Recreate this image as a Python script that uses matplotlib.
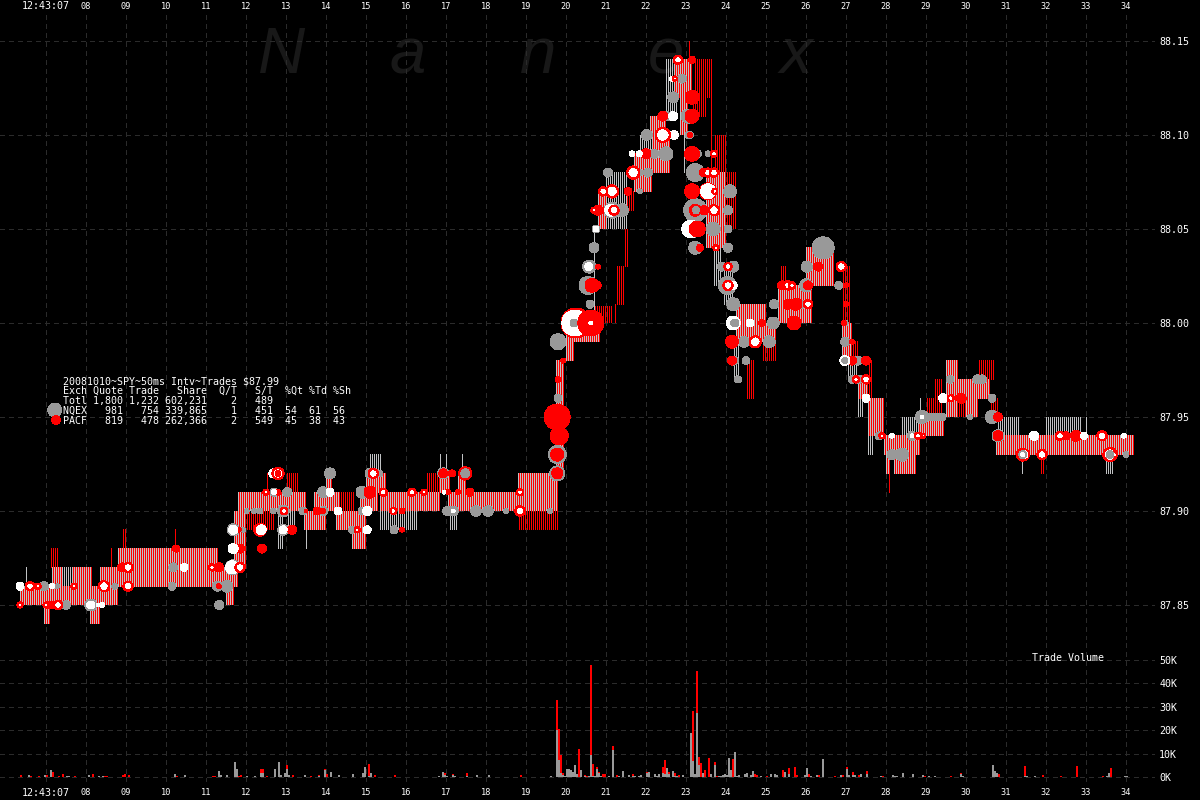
import numpy as np
import matplotlib
matplotlib.use("Agg")
import matplotlib.pyplot as plt

GRAY = '#999999'
STRIPE_GRAY = '#c0c2c4'
RED = '#ff0000'
GRID = '#2b2b2b'
MONO = 'DejaVu Sans Mono'

# quote ranges held for a stretch of time: (start s, end s, low, high)
both_quotes = [
    (6.35, 8.80, 87.85, 87.86), (6.95, 7.10, 87.84, 87.85), (8.10, 8.35, 87.84, 87.85),
    (7.15, 7.40, 87.86, 87.87), (7.65, 8.15, 87.86, 87.87), (8.35, 8.80, 87.86, 87.87),
    (8.80, 11.30, 87.86, 87.88), (11.50, 11.70, 87.85, 87.86), (11.30, 11.80, 87.86, 87.87),
    (11.80, 13.50, 87.90, 87.91), (11.70, 12.00, 87.87, 87.90), (13.45, 14.00, 87.89, 87.90),
    (13.70, 14.35, 87.90, 87.91), (14.00, 14.15, 87.91, 87.92), (14.25, 15.00, 87.89, 87.90),
    (14.65, 15.00, 87.88, 87.89), (14.85, 15.30, 87.90, 87.91), (15.00, 15.50, 87.91, 87.92),
    (15.35, 16.85, 87.90, 87.91), (16.85, 17.10, 87.91, 87.92), (17.30, 17.50, 87.91, 87.92),
    (17.05, 19.80, 87.90, 87.91), (18.80, 19.80, 87.91, 87.92), (19.75, 19.95, 87.92, 87.98),
    (20.20, 20.85, 87.99, 88.00), (20.00, 20.20, 87.98, 88.00), (20.80, 21.00, 88.05, 88.07),
    (21.70, 22.15, 88.07, 88.09), (22.10, 22.50, 88.10, 88.11), (22.15, 22.60, 88.08, 88.10),
    (22.70, 23.15, 88.12, 88.14), (22.85, 23.05, 88.10, 88.12), (23.50, 24.00, 88.04, 88.08),
    (24.25, 25.00, 87.99, 88.01), (25.00, 25.25, 87.99, 88.00), (25.30, 26.15, 88.00, 88.02),
    (26.00, 26.70, 88.02, 88.04), (26.90, 27.15, 87.98, 88.00), (27.30, 27.55, 87.96, 87.97),
    (27.55, 27.95, 87.94, 87.96), (27.95, 28.85, 87.93, 87.94), (28.00, 28.10, 87.92, 87.93),
    (28.20, 28.75, 87.92, 87.93), (28.80, 29.45, 87.94, 87.95), (29.50, 29.80, 87.95, 87.98),
    (29.80, 30.60, 87.96, 87.97), (30.00, 30.30, 87.95, 87.96), (30.75, 34.20, 87.93, 87.94),
]
red_quotes = [
    (7.10, 7.30, 87.87, 87.88), (8.60, 8.65, 87.87, 87.88), (8.90, 9.00, 87.88, 87.89),
    (10.20, 10.25, 87.88, 87.89), (11.95, 12.70, 87.89, 87.90), (12.50, 12.55, 87.91, 87.92),
    (13.00, 13.30, 87.91, 87.92), (14.35, 14.70, 87.90, 87.91), (16.50, 16.85, 87.91, 87.92),
    (18.80, 19.80, 87.89, 87.90), (20.70, 21.15, 88.00, 88.009), (21.20, 21.25, 88.00, 88.01),
    (21.25, 21.45, 88.01, 88.03), (21.45, 21.55, 88.03, 88.05), (21.50, 21.70, 88.06, 88.07),
    (23.05, 23.10, 88.14, 88.15), (23.20, 23.65, 88.12, 88.14), (23.15, 23.50, 88.11, 88.12),
    (23.60, 23.65, 88.08, 88.12), (23.70, 24.00, 88.08, 88.10), (24.00, 24.25, 88.05, 88.08),
    (24.50, 24.70, 87.96, 87.98), (24.90, 25.25, 87.98, 87.99), (25.35, 25.50, 88.02, 88.03),
    (26.90, 27.10, 88.00, 88.03), (27.15, 27.30, 87.98, 87.99), (27.55, 27.65, 87.96, 87.98),
    (27.70, 27.95, 87.94, 87.96), (28.05, 28.10, 87.91, 87.92), (29.00, 29.40, 87.95, 87.96),
    (29.20, 29.40, 87.96, 87.97), (29.80, 30.05, 87.95, 87.96), (30.30, 30.70, 87.97, 87.98),
    (30.60, 30.80, 87.95, 87.96), (31.85, 31.95, 87.92, 87.93),
]
gray_quotes = [
    (6.50, 6.55, 87.86, 87.87), (7.40, 7.65, 87.86, 87.87), (12.80, 12.95, 87.88, 87.90),
    (13.05, 13.25, 87.89, 87.90), (13.50, 13.55, 87.88, 87.89), (15.10, 15.40, 87.92, 87.93),
    (15.35, 16.30, 87.89, 87.90), (16.85, 16.90, 87.92, 87.93), (17.00, 17.05, 87.92, 87.93),
    (17.10, 17.30, 87.89, 87.90), (17.40, 17.45, 87.91, 87.93), (20.70, 20.75, 87.99, 88.05),
    (21.00, 21.55, 88.05, 88.08), (21.85, 22.15, 88.08, 88.10), (22.50, 22.80, 88.11, 88.14),
    (22.95, 23.00, 88.08, 88.11), (23.70, 23.90, 88.02, 88.05), (23.95, 24.20, 88.01, 88.03),
    (24.20, 24.35, 87.97, 87.99), (27.05, 27.30, 87.97, 87.98), (27.30, 27.45, 87.95, 87.96),
    (27.55, 27.70, 87.93, 87.94), (28.40, 28.80, 87.94, 87.95), (28.85, 28.90, 87.95, 87.96),
    (30.80, 31.35, 87.94, 87.95), (32.00, 32.90, 87.94, 87.95), (33.00, 33.05, 87.94, 87.95),
    (31.40, 31.45, 87.92, 87.93), (33.50, 33.70, 87.92, 87.93),
]

# trade bubbles: (time s, price, diameter px)
gray_trades = [
    (7.5, 87.85, 9), (8.12, 87.85, 12), (11.33, 87.85, 9), (6.55, 87.86, 6), (6.95, 87.86, 9),
    (7.28, 87.86, 5), (8.72, 87.86, 6), (10.15, 87.86, 8), (11.28, 87.86, 10), (11.52, 87.86, 12),
    (10.18, 87.87, 9), (11.67, 87.87, 15), (11.68, 87.89, 12), (11.93, 87.89, 5), (12.93, 87.89, 11),
    (14.65, 87.89, 7), (15.7, 87.89, 8), (12.02, 87.90, 5), (12.2, 87.90, 5), (12.35, 87.90, 6),
    (12.68, 87.90, 6), (12.93, 87.90, 12), (13.43, 87.90, 8), (13.93, 87.90, 9), (14.9, 87.90, 8),
    (17.03, 87.90, 9), (17.18, 87.90, 10), (17.75, 87.90, 11), (18.05, 87.90, 11), (18.5, 87.90, 5),
    (19.6, 87.90, 5), (12.7, 87.91, 8), (13.03, 87.91, 9), (13.93, 87.91, 11), (14.9, 87.91, 12),
    (15.08, 87.91, 9), (14.1, 87.92, 11), (15.1, 87.92, 10), (15.35, 87.92, 6), (16.93, 87.92, 11),
    (19.78, 87.93, 18), (19.78, 87.92, 15), (19.8, 87.96, 8), (19.8, 87.99, 16), (20.6, 88.01, 8),
    (20.55, 88.02, 18), (20.58, 88.03, 13), (20.7, 88.04, 10), (20.75, 88.05, 8), (21.15, 88.06, 16),
    (21.4, 88.06, 13), (21.85, 88.07, 5), (21.05, 88.08, 9), (22.05, 88.08, 9), (21.85, 88.08, 6),
    (22.2, 88.09, 9), (22.5, 88.09, 14), (22.02, 88.10, 11), (22.55, 88.10, 6), (23.08, 88.10, 8),
    (22.52, 88.11, 9), (23.05, 88.11, 14), (22.68, 88.12, 11), (22.9, 88.13, 9), (23.3, 88.09, 7),
    (23.55, 88.09, 6), (23.23, 88.08, 18), (24.1, 88.07, 13), (23.23, 88.06, 23), (24.05, 88.06, 9),
    (23.68, 88.05, 14), (24.05, 88.05, 8), (23.15, 88.05, 18), (23.23, 88.04, 13), (24.05, 88.04, 9),
    (23.9, 88.03, 9), (24.18, 88.03, 11), (24.03, 88.02, 18), (24.18, 88.01, 13), (25.2, 88.01, 9),
    (25.9, 88.01, 8), (25.18, 88.00, 12), (26.98, 88.00, 6), (26.43, 88.04, 22), (26.02, 88.03, 11),
    (26.0, 88.02, 13), (26.82, 88.02, 8), (24.2, 87.99, 9), (24.45, 87.99, 11), (25.08, 87.99, 12),
    (26.98, 87.99, 9), (24.2, 87.98, 9), (24.5, 87.98, 8), (27.3, 87.98, 9), (24.3, 87.97, 7),
    (27.15, 87.97, 8), (27.33, 87.97, 8), (30.65, 87.96, 8), (29.95, 87.96, 6), (28.9, 87.95, 13),
    (29.1, 87.95, 8), (29.25, 87.95, 8), (29.4, 87.95, 8), (30.1, 87.95, 5), (30.65, 87.95, 13),
    (29.6, 87.97, 8), (30.28, 87.97, 9), (30.4, 87.97, 9), (27.83, 87.94, 8), (28.65, 87.94, 9),
    (30.8, 87.94, 12), (28.15, 87.93, 10), (28.4, 87.93, 13), (34.0, 87.93, 6),
]
red_trades = [
    (7.12, 87.85, 8), (8.9, 87.87, 9), (11.33, 87.87, 9), (10.25, 87.88, 7), (11.85, 87.88, 9),
    (12.4, 87.88, 9), (11.32, 87.86, 5), (11.82, 87.89, 5), (12.35, 87.89, 13), (13.15, 87.89, 9),
    (15.9, 87.89, 5), (13.78, 87.90, 8), (13.5, 87.90, 4), (13.93, 87.90, 5), (15.9, 87.90, 6),
    (12.8, 87.91, 6), (15.1, 87.91, 12), (17.05, 87.91, 5), (17.3, 87.91, 5), (17.6, 87.91, 8),
    (15.18, 87.92, 6), (16.93, 87.92, 9), (17.15, 87.92, 7), (19.78, 87.92, 11), (19.78, 87.93, 13),
    (19.83, 87.94, 18), (19.78, 87.95, 26), (19.8, 87.97, 6), (19.93, 87.98, 5), (20.25, 88.00, 30),
    (20.65, 88.02, 14), (20.78, 88.02, 8), (20.8, 88.03, 5), (20.8, 88.06, 10), (21.55, 88.07, 8),
    (22.0, 88.09, 10), (22.42, 88.11, 10), (23.15, 88.12, 14), (23.15, 88.11, 14), (23.15, 88.14, 7),
    (23.1, 88.10, 5), (23.15, 88.09, 15), (23.43, 88.08, 8), (23.15, 88.07, 15), (23.55, 88.07, 17),
    (23.23, 88.06, 12), (23.45, 88.06, 9), (23.35, 88.04, 7), (24.9, 88.00, 7),
    (25.4, 88.02, 9), (25.55, 88.01, 10), (25.75, 88.01, 12), (25.7, 88.00, 14), (26.3, 88.03, 9),
    (26.05, 88.02, 9), (27.0, 88.02, 5), (27.0, 88.01, 5), (26.95, 88.00, 5), (24.15, 87.99, 13),
    (27.15, 87.99, 5), (24.15, 87.98, 9), (27.15, 87.98, 9), (27.5, 87.98, 9), (29.88, 87.96, 10),
    (30.8, 87.95, 9), (30.8, 87.94, 10), (32.5, 87.94, 8), (32.75, 87.94, 11), (31.42, 87.93, 13),
]
white_trades = [
    (6.35, 87.86, 8), (7.15, 87.86, 5), (8.12, 87.85, 8), (8.3, 87.85, 4), (8.4, 87.85, 5),
    (10.45, 87.87, 8), (11.65, 87.87, 13), (11.68, 87.88, 10), (11.68, 87.89, 9), (12.38, 87.89, 10),
    (12.93, 87.89, 8), (15.03, 87.89, 8), (14.3, 87.90, 8), (15.03, 87.90, 9), (17.18, 87.90, 4),
    (12.7, 87.91, 5), (14.1, 87.91, 8), (16.95, 87.91, 4), (12.68, 87.92, 9), (20.22, 88.00, 26),
    (20.57, 88.03, 8), (20.75, 88.05, 6), (21.12, 88.06, 12), (21.65, 88.09, 6), (21.83, 88.09, 6),
    (22.7, 88.10, 9), (22.68, 88.11, 9), (22.65, 88.13, 5), (23.55, 88.07, 15), (23.12, 88.05, 18),
    (24.18, 88.02, 8), (24.18, 88.00, 14), (24.6, 88.00, 8), (26.97, 87.98, 10), (27.5, 87.96, 8),
    (29.43, 87.96, 9), (28.9, 87.95, 4), (28.15, 87.94, 5), (28.65, 87.94, 4), (31.7, 87.94, 9),
    (33.95, 87.94, 5), (32.95, 87.94, 7), (31.45, 87.93, 8),
]
rimmed_trades = [
    (6.6, 87.86, 8), (6.8, 87.86, 5), (7.7, 87.86, 5), (8.45, 87.86, 10), (9.05, 87.86, 9),
    (6.35, 87.85, 5), (7.3, 87.85, 8), (7.0, 87.85, 5), (9.05, 87.87, 9), (11.15, 87.87, 6),
    (11.85, 87.87, 9), (12.95, 87.90, 6), (15.68, 87.90, 6), (18.85, 87.90, 9), (12.5, 87.91, 5),
    (15.43, 87.91, 7), (16.15, 87.91, 7), (16.45, 87.91, 5), (18.85, 87.91, 6), (14.78, 87.89, 5),
    (15.18, 87.92, 9), (17.48, 87.92, 12), (12.8, 87.92, 11), (20.7, 88.06, 5), (21.2, 88.06, 9),
    (20.93, 88.07, 8), (21.15, 88.07, 12), (21.68, 88.08, 12), (22.42, 88.10, 14), (22.8, 88.14, 8),
    (22.72, 88.13, 4), (23.7, 88.09, 6), (23.55, 88.08, 8), (23.7, 88.08, 8), (23.72, 88.07, 5),
    (23.7, 88.06, 10), (23.75, 88.04, 5), (24.05, 88.03, 7), (24.05, 88.02, 9), (25.55, 88.02, 8),
    (25.65, 88.02, 6), (26.05, 88.01, 8), (26.88, 88.03, 9), (24.73, 87.99, 11), (27.25, 87.97, 6),
    (27.5, 87.97, 8), (29.62, 87.96, 6), (27.9, 87.94, 5), (28.8, 87.94, 6), (28.93, 87.94, 4),
    (32.35, 87.94, 8), (33.4, 87.94, 9), (31.9, 87.93, 9), (33.6, 87.93, 13), (33.72, 87.93, 5),
]
inner_gray = [(20.2, 88.00, 8), (17.48, 87.92, 9), (26.97, 87.98, 6), (33.6, 87.93, 8), (31.42, 87.93, 8),
              (24.22, 88.00, 8), (23.25, 88.06, 7)]
inner_red = [(12.8, 87.92, 6), (20.62, 88.00, 26), (23.28, 88.05, 16)]
inner_white = [(20.62, 88.00, 4), (31.42, 87.93, 4)]

# volume per 50 ms: (time s, NQEX K shares, PACF K shares)
volume = [
    (6.35, 0, 1.0), (6.55, 0.8, 0), (6.6, 0, 0.3), (6.8, 0, 0.3), (6.95, 0.7, 0), (7.0, 0, 0.8),
    (7.1, 3.0, 0), (7.15, 0, 2.1), (7.3, 0, 0.5), (7.4, 0, 1.3), (7.5, 0.3, 0), (7.55, 0.3, 0),
    (7.7, 0, 0.3), (8.05, 0.9, 0), (8.15, 0, 1.3), (8.3, 0.3, 0), (8.4, 0.3, 0), (8.45, 0, 0.4),
    (8.5, 0, 0.3), (8.75, 0.2, 0), (8.9, 0, 0.9), (8.95, 0, 1.3), (9.05, 0, 0.9), (10.2, 1.3, 0),
    (10.25, 0, 0.3), (10.45, 0.9, 0), (11.15, 0, 0.3), (11.2, 0, 0.3), (11.3, 2.5, 0), (11.35, 0.7, 0.3),
    (11.5, 0.7, 0), (11.65, 0.2, 0), (11.7, 6.4, 0), (11.75, 3.4, 0), (11.8, 0, 0.3), (11.85, 0, 0.9),
    (12.0, 0.3, 0), (12.2, 0.3, 0), (12.35, 1.7, 1.7), (12.4, 1.7, 1.7), (12.5, 0, 0.3), (12.7, 3.4, 0),
    (12.8, 6.4, 0), (12.85, 0.9, 0), (12.95, 1.7, 0), (13.0, 3.4, 1.7), (13.05, 0.7, 0), (13.15, 0, 0.7),
    (13.45, 0.7, 0), (13.6, 0, 0.3), (13.8, 0.3, 0.5), (13.95, 3.0, 0.4), (14.0, 0, 1.3), (14.1, 2.1, 0),
    (14.3, 0.7, 0), (14.65, 1.3, 0), (14.9, 1.7, 0), (14.95, 4.3, 0), (15.05, 0.3, 5.3), (15.1, 1.7, 0),
    (15.2, 0, 0.9), (15.7, 0.2, 0.5), (16.8, 0.6, 0), (16.9, 2.1, 0), (16.95, 1.0, 0.7), (17.0, 0.4, 0),
    (17.15, 1.0, 0.4), (17.2, 0.4, 0), (17.5, 0.3, 1.4), (17.75, 0.9, 0), (18.05, 0.7, 0), (18.85, 0, 1.0),
    (19.6, 0.3, 0), (19.75, 20.0, 13.0), (19.8, 7.4, 13.1), (19.85, 1.7, 7.8), (19.9, 1.0, 0.7),
    (19.95, 0.6, 0), (20.0, 3.6, 0), (20.05, 3.6, 0), (20.1, 3.1, 0), (20.15, 2.0, 0), (20.2, 5.1, 0),
    (20.25, 1.4, 0), (20.3, 0, 12.1), (20.35, 3.1, 0), (20.45, 0.3, 0.7), (20.5, 0, 0.4), (20.55, 0.3, 0),
    (20.6, 9.5, 38.5), (20.65, 0.4, 5.3), (20.7, 0.6, 0), (20.75, 3.4, 1.0), (20.8, 1.7, 0.6), (20.85, 0.4, 0),
    (20.9, 0, 1.2), (20.95, 0, 1.4), (21.05, 0.6, 0), (21.15, 11.7, 1.7), (21.25, 0, 1.0), (21.3, 0.3, 0),
    (21.4, 2.7, 0), (21.55, 1.0, 0), (21.65, 0.5, 0.9), (21.7, 0.3, 0), (21.8, 0.6, 0), (21.85, 1.0, 0),
    (21.95, 0.2, 0), (22.0, 1.7, 0.6), (22.05, 2.0, 0), (22.2, 1.4, 0), (22.25, 0.5, 0), (22.3, 1.2, 0),
    (22.4, 1.7, 2.7), (22.45, 1.3, 6.1), (22.5, 3.8, 0), (22.55, 1.4, 0.9), (22.65, 2.6, 0), (22.7, 0.6, 1.1),
    (22.75, 0.3, 0), (22.8, 0, 1.0), (22.9, 1.0, 0), (23.1, 19.0, 0), (23.15, 7.0, 21.0), (23.2, 1.2, 0),
    (23.25, 27.5, 17.9), (23.3, 5.3, 3.4), (23.35, 0, 6.0), (23.4, 1.7, 0), (23.45, 0, 3.1), (23.55, 0, 8.3),
    (23.6, 1.2, 0), (23.7, 5.0, 1.5), (23.75, 0, 0.3), (23.8, 0.3, 0), (23.85, 0.3, 0), (23.9, 1.0, 0),
    (23.95, 1.4, 0), (24.0, 1.0, 0), (24.05, 8.3, 0), (24.1, 3.1, 0), (24.15, 0, 7.7), (24.2, 10.8, 0),
    (24.25, 0.4, 0), (24.3, 0.7, 0), (24.45, 1.2, 0), (24.5, 1.7, 0), (24.6, 0.7, 0), (24.65, 2.4, 0),
    (24.7, 0, 1.4), (24.75, 0, 1.0), (24.85, 0.3, 0), (24.9, 0.2, 0), (25.0, 0, 0.5), (25.1, 1.4, 0),
    (25.2, 1.4, 0), (25.25, 0.7, 0), (25.4, 0, 3.1), (25.45, 2.0, 0), (25.55, 1.4, 2.6), (25.65, 0.2, 0),
    (25.7, 0, 4.4), (25.75, 0, 0.7), (25.95, 0.9, 0), (26.0, 3.8, 0), (26.05, 0, 1.3), (26.1, 0.3, 0),
    (26.25, 0.7, 0), (26.3, 0, 0.9), (26.4, 7.7, 0), (26.7, 0, 0.3), (26.85, 0.9, 0), (26.9, 0, 0.7),
    (27.0, 3.4, 0.9), (27.05, 0.9, 0), (27.15, 0.7, 1.4), (27.2, 0.7, 0), (27.3, 0, 0.9), (27.35, 1.3, 0),
    (27.5, 1.3, 1.2), (27.85, 0.6, 0), (27.9, 0, 0.3), (28.15, 0.9, 0), (28.2, 0.5, 0), (28.25, 0.5, 0),
    (28.4, 1.7, 0), (28.65, 1.3, 0), (28.85, 0.2, 0), (28.9, 0.9, 0), (28.95, 0, 0.3), (29.05, 0.3, 0),
    (29.2, 0.5, 0), (29.3, 0.2, 0), (29.45, 0.2, 0), (29.6, 0, 0.5), (29.65, 0.2, 0), (29.85, 1.3, 0.4),
    (29.9, 0.3, 0.2), (30.1, 0.2, 0), (30.25, 0.2, 0), (30.4, 0.2, 0), (30.5, 0.2, 0), (30.65, 5.1, 0),
    (30.7, 2.5, 0), (30.75, 1.7, 0), (30.8, 0, 1.3), (31.45, 0.6, 4.1), (31.5, 0.6, 0), (31.7, 0.6, 0),
    (31.9, 0, 0.9), (32.35, 0, 0.5), (32.5, 0, 0.2), (32.65, 0.2, 0), (32.7, 0.2, 0), (32.75, 0, 4.7),
    (32.95, 0.2, 0), (33.4, 0, 0.5), (33.5, 0.3, 0), (33.55, 1.7, 0), (33.6, 0, 3.8), (33.65, 0, 0.2),
    (33.7, 0.2, 0), (33.95, 0.4, 0), (34.0, 0.4, 0),
]

second_ticks = list(range(7, 35))
second_labels = ['12:43:07'] + [f'{s:02d}' for s in second_ticks[1:]]
price_ticks = [87.85, 87.90, 87.95, 88.00, 88.05, 88.10, 88.15]
volume_ticks = [0, 10, 20, 30, 40, 50]
volume_labels = ['0K', '10K', '20K', '30K', '40K', '50K']
summary_lines = [
    '20081010~SPY~50ms Intv~Trades $87.99',
    'Exch Quote Trade   Share  Q/T   S/T  %Qt %Td %Sh',
    'Totl 1,800 1,232 602,231    2   489',
    'NQEX   981   754 339,865    1   451  54  61  56',
    'PACF   819   478 262,366    2   549  45  38  43',
]
summary_y_px = [381, 391, 401, 411, 421]
watermark_letters = ['N', 'a', 'n', 'e', 'x']
watermark_x_px = [258, 390, 520, 648, 780]
legend_gray = (7.22, 87.9537, 14)
legend_red = (7.25, 87.9484, 9)

plt.rcParams['lines.scale_dashes'] = False
plt.rcParams['font.family'] = [MONO, 'DejaVu Sans']
W, H = 1200, 800
fig = plt.figure(figsize=(12, 8), dpi=100, facecolor='black')

RIGHT_PX, TOP_PX, SPLIT_PX, BOTTOM_PX = 1155, 12, 640, 782
ax = fig.add_axes([0, 1 - SPLIT_PX / H, RIGHT_PX / W, (SPLIT_PX - TOP_PX) / H], facecolor='black')
av = fig.add_axes([0, 1 - BOTTOM_PX / H, RIGHT_PX / W, (BOTTOM_PX - SPLIT_PX) / H], facecolor='black')

xlim = (7 - 46 / 40, 7 - 46 / 40 + RIGHT_PX / 40)
PX_PER_DOLLAR = 94 / 0.05
ax.set_xlim(*xlim)
av.set_xlim(*xlim)
ax.set_ylim(87.85 - (SPLIT_PX - 605) / PX_PER_DOLLAR, 87.85 + (605 - TOP_PX) / PX_PER_DOLLAR)
av.set_ylim(-(BOTTOM_PX - 777) / 2.34, (777 - SPLIT_PX) / 2.34)

for a in (ax, av):
    for s in a.spines.values():
        s.set_visible(False)
    a.set_xticks(second_ticks)
    a.grid(True, color=GRID, lw=0.72, linestyle=(0, (2.9, 2.9)), antialiased=False)
    a.set_axisbelow(True)
    a.tick_params(length=0, colors='white', labelsize=7.2, pad=3)
    a.yaxis.tick_right()

ax.xaxis.tick_top()
ax.set_xticklabels(second_labels)
ax.set_yticks(price_ticks)
ax.set_yticklabels([f'{p:.2f}' for p in price_ticks])
av.set_xticklabels(second_labels)
av.set_yticks(volume_ticks)
av.set_yticklabels(volume_labels)
ax.tick_params(axis='x', pad=1)
av.tick_params(axis='x', pad=4)
for lab in ax.get_xticklabels()[1:] + av.get_xticklabels()[1:]:
    lab.set_fontsize(6.2)

# watermark
for letter, xp in zip(watermark_letters, watermark_x_px):
    ax.text(xp / W, 1 - 73 / H, letter, transform=fig.transFigure, color='#181818', fontsize=47,
            family='Liberation Sans', style='italic', va='baseline', ha='left', zorder=0.5)

# quote stripes: one 1px line per 50 ms, NQEX then PACF, centred on whole pixels
def stripes(segments, offset):
    xs, lows, highs = [], [], []
    for t0, t1, lo, hi in segments:
        for i in range(int(round(t0 * 20)), int(round(t1 * 20))):
            xs.append(i * 0.05 + offset)
            lows.append(lo)
            highs.append(hi)
    return xs, lows, highs

x_g, lo_g, hi_g = stripes(both_quotes + gray_quotes, 0.0125)
x_r, lo_r, hi_r = stripes(both_quotes + red_quotes, 0.0375)
lc_g = ax.vlines(x_g, lo_g, hi_g, colors=STRIPE_GRAY, linewidth=0.5, antialiased=False, zorder=2)
lc_r = ax.vlines(x_r, lo_r, hi_r, colors=RED, linewidth=0.5, antialiased=False, zorder=2.1)
lc_g.set_snap(False)
lc_r.set_snap(False)

# trade bubbles
def bubbles(points, face, edge='none', lw=0, z=3):
    pts = sorted(points, key=lambda p: -p[2])
    ax.scatter([p[0] for p in pts], [p[1] for p in pts], s=[(p[2] * 0.72) ** 2 for p in pts],
               facecolors=face, edgecolors=edge, linewidths=lw, antialiased=False, zorder=z,
               clip_on=False)

bubbles(gray_trades, GRAY, z=3)
bubbles(red_trades, RED, z=3.1)
bubbles(white_trades, 'white', z=3.2)
bubbles(rimmed_trades, 'white', edge=RED, lw=0.9, z=3.3)
bubbles(inner_gray, GRAY, z=3.4)
bubbles(inner_red, RED, z=3.5)
bubbles(inner_white, 'white', z=3.6)
bubbles([legend_gray], GRAY, z=3.7)
bubbles([legend_red], RED, z=3.7)

# volume bars
v_t = [v[0] for v in volume]
v_g = [v[1] for v in volume]
v_r = [v[2] for v in volume]
av.bar(v_t, v_g, width=0.05, align='edge', color=GRAY, linewidth=0, antialiased=False, zorder=2)
av.bar(v_t, v_r, width=0.05, align='edge', bottom=v_g, color=RED, linewidth=0, antialiased=False, zorder=2)

# texts
for line, yp in zip(summary_lines, summary_y_px):
    fig.text(63 / W, 1 - yp / H, line, color='white', fontsize=7.2, va='center', ha='left',
             zorder=10, family=MONO)
fig.text(1032 / W, 1 - 658 / H, 'Trade Volume', color='white', fontsize=7.2, va='center', ha='left',
         family=MONO)

fig.savefig('out.png', dpi=100, facecolor='black')
